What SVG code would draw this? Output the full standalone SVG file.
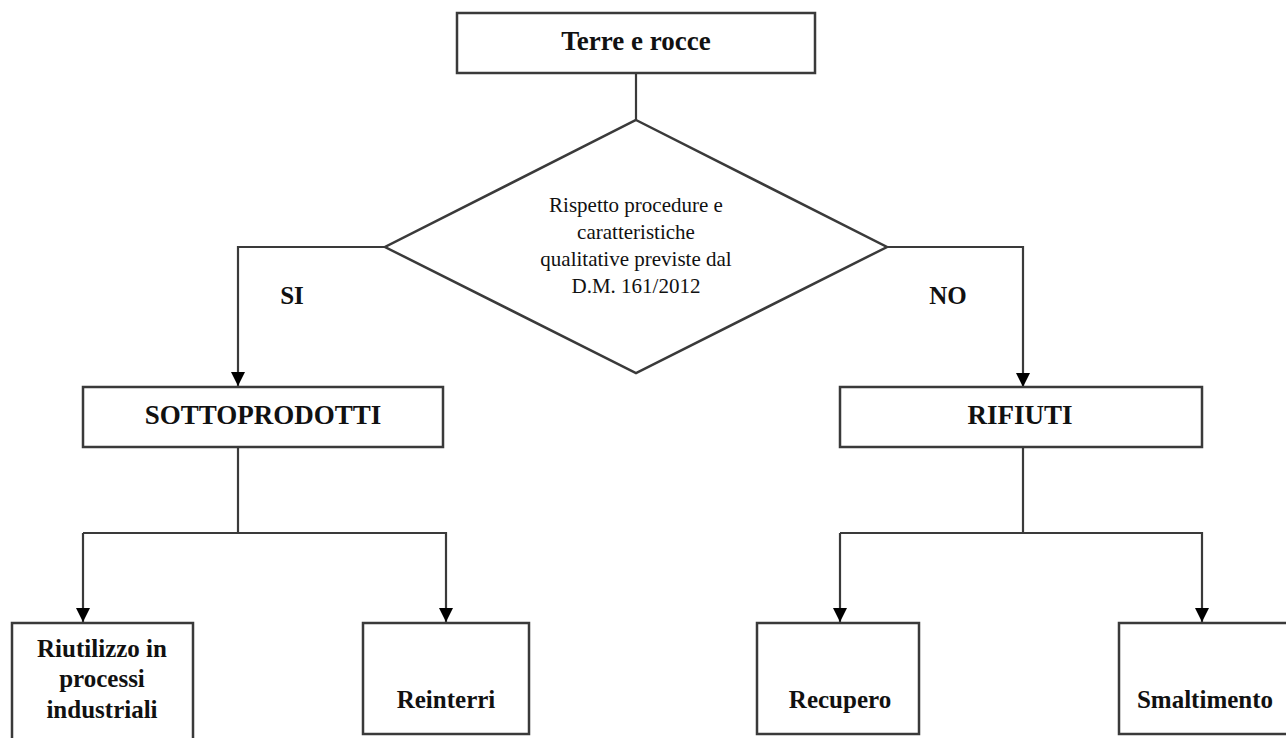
<svg xmlns="http://www.w3.org/2000/svg" width="1286" height="738" viewBox="0 0 1286 738">
<style>
.box{fill:#fff;stroke:#3a3a3a;stroke-width:2.5}
.con{fill:none;stroke:#3a3a3a;stroke-width:2.2}
.t{font-family:"Liberation Serif","Times New Roman",serif;fill:#111;text-anchor:middle}
.b{font-weight:bold}
</style>
<defs>
<marker id="ah" markerUnits="userSpaceOnUse" markerWidth="14" markerHeight="15" refX="14" refY="7" orient="auto" viewBox="0 0 14 14">
<path d="M0,0 L14,7 L0,14 Z" fill="#000"/>
</marker>
</defs>
<rect width="1286" height="738" fill="#fff"/>
<g id="connectors">
<line class="con" x1="636" y1="73" x2="636" y2="120"/>
<polyline class="con" points="385,247 238,247 238,386" marker-end="url(#ah)"/>
<polyline class="con" points="887,247 1023,247 1023,387" marker-end="url(#ah)"/>
<line class="con" x1="238" y1="447" x2="238" y2="533"/>
<polyline class="con" points="83,533 446,533 446,622" marker-end="url(#ah)"/>
<line class="con" x1="83" y1="533" x2="83" y2="622" marker-end="url(#ah)"/>
<line class="con" x1="1023" y1="446" x2="1023" y2="533"/>
<polyline class="con" points="840,533 1202,533 1202,622" marker-end="url(#ah)"/>
<line class="con" x1="840" y1="533" x2="840" y2="622" marker-end="url(#ah)"/>
</g>
<g id="start">
<rect class="box" x="457" y="13" width="358" height="60"/>
<text class="t b" x="636" y="50" font-size="27">Terre e rocce</text>
</g>
<g id="decision">
<polygon class="box" points="636,120 887,247 636,373 385,247" stroke-width="2.2"/>
<text class="t" font-size="21" x="636"><tspan x="636" y="212">Rispetto procedure e</tspan><tspan x="636" y="239">caratteristiche</tspan><tspan x="636" y="266">qualitative previste dal</tspan><tspan x="636" y="293">D.M. 161/2012</tspan></text>
</g>
<g id="label-si"><text class="t b" x="292" y="304" font-size="25">SI</text></g>
<g id="label-no"><text class="t b" x="948" y="304" font-size="25">NO</text></g>
<g id="sottoprodotti">
<rect class="box" x="83" y="387" width="360" height="60"/>
<text class="t b" x="263" y="424" font-size="27">SOTTOPRODOTTI</text>
</g>
<g id="rifiuti">
<rect class="box" x="840" y="387" width="362" height="60"/>
<text class="t b" x="1020" y="424" font-size="27">RIFIUTI</text>
</g>
<g id="riutilizzo">
<rect class="box" x="12" y="623" width="181" height="125"/>
<text class="t b" font-size="25"><tspan x="102" y="657">Riutilizzo in</tspan><tspan x="102" y="687">processi</tspan><tspan x="102" y="718">industriali</tspan></text>
</g>
<g id="reinterri">
<rect class="box" x="363" y="623" width="166" height="111"/>
<text class="t b" x="446" y="708" font-size="25">Reinterri</text>
</g>
<g id="recupero">
<rect class="box" x="757" y="623" width="162" height="111"/>
<text class="t b" x="840" y="708" font-size="25">Recupero</text>
</g>
<g id="smaltimento">
<rect class="box" x="1119" y="623" width="180" height="111"/>
<text class="t b" x="1205" y="708" font-size="25">Smaltimento</text>
</g>
</svg>
